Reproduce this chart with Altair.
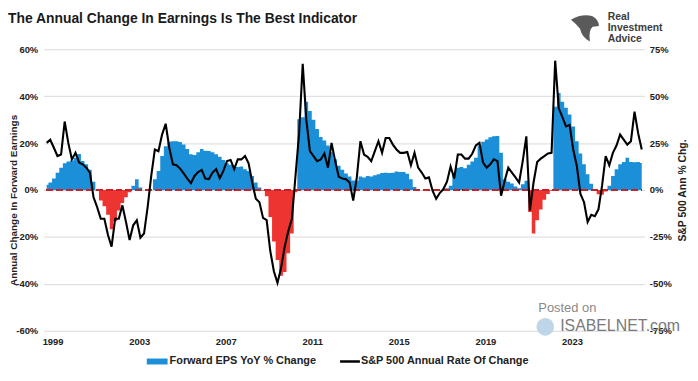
import altair as alt
import pandas as pd

# ---- data (one sample every 2 months) ----
t_start = 1998.725
t_step = 1 / 6

eps_yoy = [
    2.2, 3.2, 4.9, 7.4, 9.5, 11.4, 12.1, 12.6, 13.8, 15.4,
    12.4, 11.0, 8.6, 3.5, -0.3, -4.5, -6.9, -10.5, -16.7, -13.3,
    -8.7, -5.5, -3.1, -1.0, 1.8, 4.6, 1.1, 0, 0, 0,
    4.6, 8.1, 14.5, 18.7, 20.6, 20.8, 20.8, 20.5, 19.4, 17.5,
    15.2, 14.9, 16.1, 17.5, 16.7, 16.6, 16.1, 15.2, 14.2, 12.8,
    11.4, 10.8, 10.4, 9.8, 10.0, 8.8, 8.1, 6.0, 3.2, 1.1,
    -0.3, -2.7, -11.5, -22.0, -29.8, -36.5, -35.0, -27.0, -18.5, -1.0,
    30.2, 31.0, 37.6, 33.7, 29.9, 26.0, 22.6, 21.1, 19.0, 16.1,
    13.1, 10.3, 8.6, 7.0, 5.8, 4.1, 3.9, 5.8, 5.3, 6.0,
    5.8, 6.3, 6.7, 7.2, 7.4, 7.2, 7.4, 7.9, 7.7, 7.7,
    6.9, 4.6, 1.3, 0.1, 0, 0, 0, 0, 0, 0,
    0, 0.7, 1.8, 7.4, 9.5, 9.8, 9.3, 10.8, 12.2, 13.8,
    19.0, 20.6, 21.5, 22.5, 22.9, 23.0, 15.9, 4.6, 3.5, 2.8,
    1.5, 0.7, 2.5, 3.9, -9.4, -18.5, -12.9, -8.3, -4.2, -1.7,
    -0.3, 35.5, 41.4, 37.6, 35.1, 32.2, 27.1, 20.8, 15.6, 11.0,
    6.7, 2.7, 0, -1.8, -2.0, -0.6, 1.8, 6.0, 8.8, 11.0,
    11.9, 13.8, 11.9, 11.8, 11.9, 11.5,
]

spx_roc = [
    25.1, 26.8, 22.5, 18.1, 18.9, 36.5, 25.1, 16.3, 19.8, 14.6,
    13.7, 11.9, 9.3, -3.9, -9.1, -15.3, -15.3, -24.0, -30.2, -15.3,
    -15.3, -8.2, -17.0, -26.7, -18.8, -16.1, -25.4, -23.2, -9.1, 7.5,
    21.6, 20.7, 29.5, 35.3, 22.5, 13.7, 13.2, 11.4, 8.9, 6.1,
    3.7, 7.5, 9.6, 10.7, 6.1, 5.8, 9.3, 11.1, 6.3, 10.2,
    15.4, 16.0, 11.1, 16.3, 16.3, 18.1, 14.2, 4.0, -4.7, -6.5,
    -14.9, -16.1, -32.4, -43.3, -49.5, -41.6, -30.2, -21.9, -15.3, 7.5,
    30.3, 67.2, 37.4, 20.7, 18.1, 15.4, 16.3, 19.5, 11.9, 25.1,
    15.4, 7.0, 6.1, 5.8, 4.0, -5.6, 6.7, 26.0, 18.9, 17.7,
    15.4, 20.7, 26.0, 19.8, 27.7, 27.7, 24.2, 21.6, 19.8, 19.8,
    20.3, 13.2, 19.8, 11.9, 9.3, 6.1, 6.7, -0.4, -4.7, -1.6,
    0.5, 4.4, 12.5, 6.1, 18.9, 18.9, 16.7, 16.7, 19.3, 23.7,
    25.1, 14.6, 11.9, 13.7, 16.3, 15.4, -3.0, 4.9, 11.9, 9.3,
    6.7, 4.0, 15.4, 28.6, -10.9, 4.0, 14.9, 16.7, 18.1, 19.5,
    19.8, 68.9, 43.5, 38.8, 33.9, 34.7, 21.6, 12.8, -2.1, -6.5,
    -17.0, -13.2, -14.0, -10.3, 2.3, 18.1, 13.2, 19.8, 23.7, 29.5,
    26.8, 24.2, 26.0, 41.7, 30.3, 21.6,
]

x_tick_years = [1999, 2003, 2007, 2011, 2015, 2019, 2023]
left_ticks = [-60, -40, -20, 0, 20, 40, 60]
right_ticks = [-75, -50, -25, 0, 25, 50, 75]

title_text = "The Annual Change In Earnings Is The Best Indicator"
left_title = "Annual Change In Forward Earnings"
right_title = "S&P 500 Ann % Chg."
legend_labels = ["Forward EPS YoY % Change", "S&P 500 Annual Rate Of Change"]
logo_lines = ["Real", "Investment", "Advice"]
watermark = ["Posted on", "ISABELNET.com"]

# ---- build table ----
t_vals = [round(t_start + i * t_step, 4) for i in range(len(eps_yoy))]
df = pd.DataFrame({"t": t_vals, "eps": eps_yoy, "spx": spx_roc})
df["pos"] = df["eps"].clip(lower=0)
df["neg"] = df["eps"].clip(upper=0)
df["z"] = 0.0
df["t0"] = t_vals[0]
df["t1"] = t_vals[-1]
one = pd.DataFrame({"a": [0]})

FONT = "Liberation Sans"
BLUE = "#1b8fd8"
RED = "#ee3430"
DASH_RED = "#c4232b"
W, H = 606, 284

xscale = alt.Scale(domain=[1998.588, 2026.348], nice=False, zero=False)
x_axis = alt.Axis(
    values=x_tick_years, format="d", title=None, grid=False, domain=False,
    ticks=False, labelFont=FONT, labelFontSize=9.5, labelFontWeight="bold",
    labelColor="#222222", labelPadding=6,
)
X = alt.X("t:Q", scale=xscale, axis=x_axis)
yL = alt.Scale(domain=[-60, 60], nice=False, zero=False)
yR = alt.Scale(domain=[-75, 75], nice=False, zero=False)

left_axis = alt.Axis(
    orient="left", values=left_ticks, labelExpr="datum.value + '%'",
    grid=True, gridColor="#d9d9d9", gridWidth=1, domain=False, ticks=False,
    labelFont=FONT, labelFontSize=9.5, labelFontWeight="bold", labelColor="#222222",
    labelPadding=6, title=left_title, titleFont=FONT, titleFontSize=10,
    titleFontWeight="bold", titleColor="#222222", titleAngle=270,
    titleX=-30, titleY=152, titleBaseline="middle", titleAlign="center",
)
right_axis = alt.Axis(
    orient="right", values=right_ticks, labelExpr="datum.value + '%'",
    grid=False, domain=False, ticks=False,
    labelFont=FONT, labelFontSize=9.5, labelFontWeight="bold", labelColor="#222222",
    labelPadding=5, title=right_title, titleFont=FONT, titleFontSize=10.5,
    titleFontWeight="bold", titleColor="#222222", titleAngle=270,
    titleX=38, titleY=142, titleBaseline="middle", titleAlign="center",
)

base = alt.Chart(df)
pos = base.mark_area(interpolate="step", color=BLUE).encode(
    x=X, y=alt.Y("pos:Q", scale=yL, axis=left_axis))
neg = base.mark_area(interpolate="step", color=RED).encode(
    x=X, y=alt.Y("neg:Q", scale=yL, axis=left_axis))
zero_rule = base.mark_rule(color=DASH_RED, strokeDash=[6, 4], strokeWidth=2).encode(
    x=alt.X("t0:Q", scale=xscale, axis=x_axis), x2="t1:Q",
    y=alt.Y("z:Q", scale=yL, axis=left_axis))
left_layer = alt.layer(pos, neg, zero_rule)

line = base.mark_line(color="black", strokeWidth=2.1).encode(
    x=X, y=alt.Y("spx:Q", scale=yR, axis=right_axis)
)

def txt(text, x, y, size, weight="normal", color="#222222", align="left"):
    return alt.Chart(one).mark_text(
        font=FONT, fontSize=size, fontWeight=weight, color=color,
        align=align, baseline="middle"
    ).encode(x=alt.value(x), y=alt.value(y), text=alt.value(text))

title = txt(title_text, -36, -30, 14, "bold", "#1a1a1a")

leg_rect = alt.Chart(one).mark_rect(color=BLUE).encode(
    x=alt.value(104), x2=alt.value(125), y=alt.value(312), y2=alt.value(318))
leg_line = alt.Chart(one).mark_rule(color="black", strokeWidth=2.5).encode(
    x=alt.value(299), x2=alt.value(319), y=alt.value(315))
leg_t1 = txt(legend_labels[0], 127, 315, 11, "bold")
leg_t2 = txt(legend_labels[1], 320, 315, 11, "bold")

eagle = alt.Chart(one).mark_point(
    shape="M-1,-0.55 Q-0.2,-1 0.55,-0.8 Q1,-0.55 1,-0.1 L0.55,-0.05 Q0.25,0.2 0.35,1 "
          "Q-0.2,0.75 -0.35,0.1 Q-0.6,-0.25 -1,-0.55 Z",
    filled=True, color="#5a5a5a", opacity=1, size=800,
).encode(x=alt.value(546), y=alt.value(-22))
logo = [txt(s, 569, -33 + k * 11.5, 10.5, "bold", "#3c3c3c") for k, s in enumerate(logo_lines)]

wm_icon = alt.Chart(one).mark_point(
    shape="circle", filled=True, color="#b8d2e6", opacity=0.9, size=320
).encode(x=alt.value(506), y=alt.value(280))
wm1 = txt(watermark[0], 499, 261, 13, "normal", "#8a8a8a")
wm2 = txt(watermark[1], 521, 279, 16, "normal", "#7a7a7a")

chart = alt.layer(
    left_layer, line, title, leg_rect, leg_line, leg_t1, leg_t2, eagle, *logo,
    wm_icon, wm1, wm2,
).resolve_scale(y="independent").properties(
    width=W, height=H,
    autosize=alt.AutoSizeParams(type="none"),
    padding={"left": 36, "top": 40, "right": 46, "bottom": 41},
    background="white",
).configure_view(stroke=None)

chart.save("out.html", embed_options={"renderer": "svg", "actions": False})
